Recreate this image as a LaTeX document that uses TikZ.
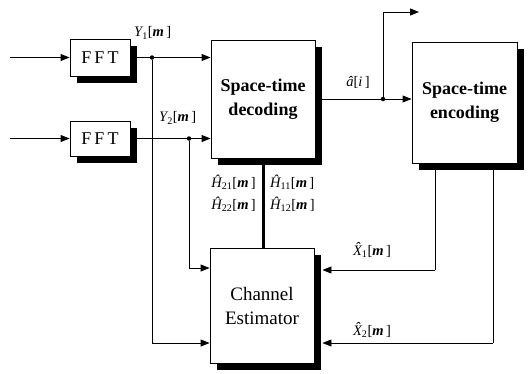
\documentclass[tikz,border=0pt]{standalone}
\usepackage{fontspec}
\setmainfont{Liberation Serif}
\usetikzlibrary{arrows.meta,shadows}
\newcommand{\lab}[2]{{\itshape #1}\textsubscript{#2}[{\itshape\bfseries m}\,]}
\begin{document}
\begin{tikzpicture}[x=1pt,y=-1pt,
  box/.style={draw, fill=white, line width=0.9pt, inner sep=0pt, align=center,
    drop shadow={shadow xshift=7pt, shadow yshift=-7pt, fill=black, opacity=1}},
  wire/.style={line width=0.9pt},
  arr/.style={line width=0.9pt, -{Triangle[length=9pt,width=7pt]}},
  dot/.style={circle, fill=black, inner sep=0pt, minimum size=4.5pt},
  lbl/.style={font=\fontsize{14.5}{16}\selectfont, inner sep=0pt}]
\useasboundingbox (0,0) rectangle (532,373);
% boxes
\node[box, minimum width=60pt, minimum height=37pt, font=\fontsize{18}{20}\selectfont] (fft1) at (100,57.5) {F\,F\,T};
\node[box, minimum width=60pt, minimum height=35pt, font=\fontsize{18}{20}\selectfont] (fft2) at (100,138.5) {F\,F\,T};
\node[box, minimum width=104pt, minimum height=118pt, font=\fontsize{18}{24}\selectfont\bfseries] (dec) at (263,99) {Space-time\\decoding};
\node[box, minimum width=105pt, minimum height=121pt, font=\fontsize{18}{24}\selectfont\bfseries] (enc) at (464.5,102.5) {Space-time\\encoding};
\node[box, minimum width=104pt, minimum height=115pt, font=\fontsize{19}{24}\selectfont] (est) at (262,305.5) {Channel\\Estimator};
% coordinates
\coordinate (in1) at (10,57.5);
\coordinate (in2) at (10,138.5);
\node[dot] (j1) at (152,57.5) {};
\node[dot] (j2) at (189,138.5) {};
\node[dot] (j3) at (383,99) {};
\coordinate (out) at (419,12);
\coordinate (b1) at (152,343);
\coordinate (b2) at (189,268);
\coordinate (x1) at (435,270);
\coordinate (x2) at (493,343);
% connectors
\draw[arr] (in1) -- (fft1.west);
\draw[arr] (in2) -- (fft2.west);
\draw[wire] (fft1.east) -- (j1);
\draw[arr] (j1) -- (dec.west |- j1);
\draw[wire] (fft2.east) -- (j2);
\draw[arr] (j2) -- (dec.west |- j2);
\draw[wire] (j1) -- (b1);
\draw[arr] (b1) -- (est.west |- b1);
\draw[wire] (j2) -- (b2);
\draw[arr] (b2) -- (est.west |- b2);
\draw[wire] ([xshift=7pt]dec.east) -- (j3);
\draw[arr] (j3) -- (enc.west |- j3);
\draw[arr] (j3) |- (out);
\draw[line width=3pt] ([yshift=-7pt]dec.south) -- (dec.south |- est.north);
\draw[wire] ([yshift=-7pt]enc.south -| x1) -- (x1);
\draw[arr] (x1) -- ([xshift=8pt]est.east |- x1);
\draw[wire] ([yshift=-7pt]enc.south -| x2) -- (x2);
\draw[arr] (x2) -- ([xshift=8pt]est.east |- x2);
% labels
\node[lbl, anchor=west] (ly1) at (134,33) {\lab{Y}{1}};
\node[lbl, anchor=west] (ly2) at (159,118) {\lab{Y}{2}};
\node[lbl] (la) at (358,82) {{\itshape â}[{\itshape i}\,]};
\node[lbl, anchor=east] (lh21) at (256,182) {\lab{\^{H}}{21}};
\node[lbl, anchor=east] (lh22) at (256,204) {\lab{\^{H}}{22}};
\node[lbl, anchor=west] (lh11) at (270,182) {\lab{\^{H}}{11}};
\node[lbl, anchor=west] (lh12) at (270,204) {\lab{\^{H}}{12}};
\node[lbl] (lx1) at (372,250) {\lab{\^{X}}{1}};
\node[lbl] (lx2) at (372,330) {\lab{\^{X}}{2}};
\end{tikzpicture}
\end{document}
